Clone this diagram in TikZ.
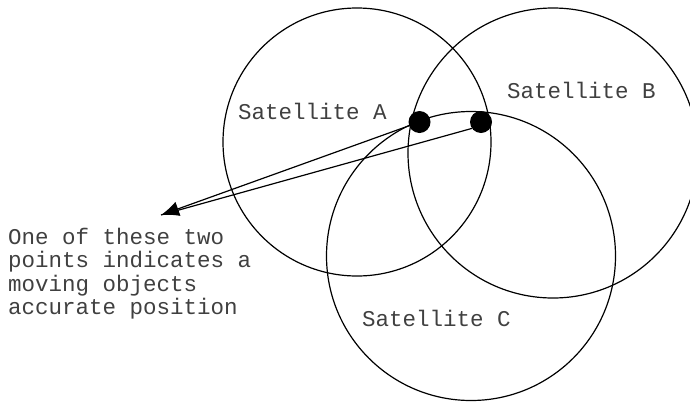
\documentclass[tikz,border=0pt]{standalone}
\usepackage{fontspec}
\newfontfamily\cour{Liberation Mono}
\usetikzlibrary{arrows.meta}
\tikzset{
  sat/.style={circle, draw=black, line width=1.2pt, inner sep=0pt},
  dot/.style={circle, fill=black, inner sep=0pt, minimum size=22pt},
  lbl/.style={font=\cour\fontsize{22.5pt}{21.3pt}\selectfont, inner sep=0pt, text=black!75},
  ptr/.style={line width=1.2pt, draw=black},
}
\begin{document}
\begin{tikzpicture}[x=1pt,y=-1pt]
\useasboundingbox (0,0) rectangle (690,402);
\node[sat, minimum size=268pt] (A) at (357,142) {};
\node[sat, minimum size=290pt] (B) at (553,153) {};
\node[sat, minimum size=289pt] (C) at (471,256) {};
\node[dot] (d1) at (419.5,122) {};
\node[dot] (d2) at (481,122) {};
\coordinate (tip) at (161,215);
\draw[ptr, -{Latex[length=18pt,width=15pt]}] (d1) -- (tip);
\draw[ptr] (d2.215) -- (tip);
\node[lbl, anchor=base west] (la) at (238,119) {Satellite A};
\node[lbl, anchor=base west] (lb) at (507,98) {Satellite B};
\node[lbl, anchor=base west] (lc) at (362,326) {Satellite C};
\node[lbl, anchor=north west, align=left] (note) at (8,228) {One of these two\\[2pt]points indicates a\\[2pt]moving objects\\[2pt]accurate position};
\end{tikzpicture}
\end{document}
